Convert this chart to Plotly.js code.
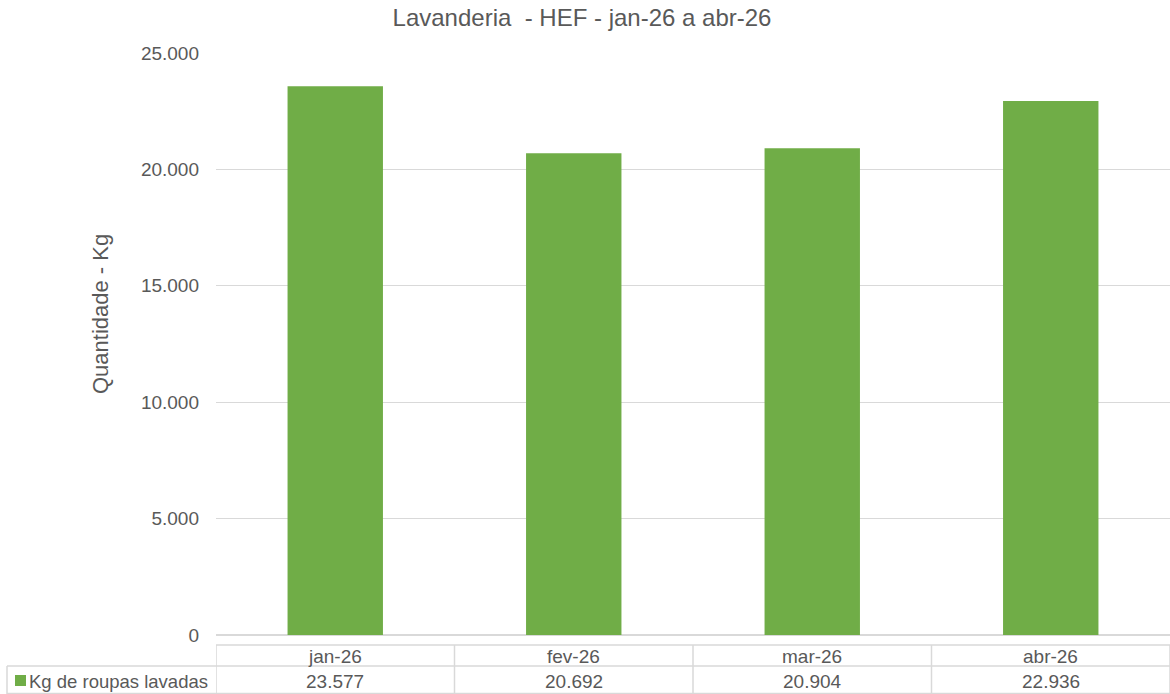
<!DOCTYPE html>
<html>
<head>
<meta charset="utf-8">
<script src="https://cdn.plot.ly/plotly-3.0.1.min.js"></script>
<style>
html,body{margin:0;padding:0;background:#fff;}
#chart{width:1170px;height:694px;}
</style>
</head>
<body>
<div id="chart"></div>
<script>
const categories = ["jan-26", "fev-26", "mar-26", "abr-26"];
const values = [23577, 20692, 20904, 22936];
const seriesName = "Kg de roupas lavadas";
const yTicks = [0, 5000, 10000, 15000, 20000, 25000];
const titleText = "Lavanderia  - HEF - jan-26 a abr-26";
const yTitle = "Quantidade - Kg";

const W = 1170, H = 694;
const mL = 216, mR = 0, mT = 53, mB = 59;
const plotW = W - mL - mR, plotH = H - mT - mB;
const green = "#70AD47";
const grid = "#D9D9D9";
const txt = "#595959";
const font = "Liberation Sans, Arial, sans-serif";

function fmt(v){ return String(Math.round(v)).replace(/\B(?=(\d{3})+(?!\d))/g, "."); }
function py(p){ return (H - mB - p) / plotH; }   // pixel y -> paper y
function px(p){ return (p - mL) / plotW; }       // pixel x -> paper x

const idx = categories.map((c,i)=>i);

const trace = {
  type: "bar",
  x: idx,
  y: values,
  marker: {color: green},
  width: 0.4,
  hoverinfo: "none",
  showlegend: false
};

const shapes = [];
const lineStyle = {color: grid, width: 1.5};
shapes.push({type:"line", xref:"paper", yref:"paper", x0:0, x1:1, y0:py(645), y1:py(645), line:lineStyle});
shapes.push({type:"line", xref:"paper", yref:"paper", x0:px(7), x1:1, y0:py(666), y1:py(666), line:lineStyle});
shapes.push({type:"line", xref:"paper", yref:"paper", x0:px(7), x1:1, y0:py(693.5), y1:py(693.5), line:lineStyle});
shapes.push({type:"line", xref:"paper", yref:"paper", x0:px(7), x1:px(7), y0:py(666), y1:py(694), line:lineStyle});
for (let k = 0; k <= categories.length; k++) {
  shapes.push({type:"line", xref:"x", yref:"paper", x0:k-0.5, x1:k-0.5, y0:py(645), y1:py(694), line:lineStyle});
}
shapes.push({type:"rect", xref:"paper", yref:"paper", x0:px(15), x1:px(26), y0:py(675), y1:py(686), fillcolor:green, line:{width:0}});

const annotations = [];
categories.forEach((c,i)=>{
  annotations.push({x:i, xref:"x", y:py(656), yref:"paper", text:c, showarrow:false,
    font:{family:font, size:19, color:txt}, xanchor:"center", yanchor:"middle"});
  annotations.push({x:i, xref:"x", y:py(681), yref:"paper", text:fmt(values[i]), showarrow:false,
    font:{family:font, size:19, color:txt}, xanchor:"center", yanchor:"middle"});
});
annotations.push({x:px(27), xref:"paper", y:py(681), yref:"paper", text:seriesName, showarrow:false,
  font:{family:font, size:18.5, color:txt}, xanchor:"left", yanchor:"middle"});
annotations.push({x:px(100), xref:"paper", y:py(314), yref:"paper", text:yTitle, showarrow:false, textangle:-90,
  font:{family:font, size:22, color:txt}, xanchor:"center", yanchor:"middle"});

const layout = {
  width: W, height: H,
  margin: {l:mL, r:mR, t:mT, b:mB, pad:0},
  paper_bgcolor: "#fff", plot_bgcolor: "#fff",
  separators: ",.",
  title: {text: titleText, font:{family:font, size:24, color:txt}, x:582/W, xref:"container", xanchor:"center", y:1 - 18/H, yref:"container", yanchor:"middle"},
  font: {family:font, color:txt},
  xaxis: {range:[-0.5, categories.length - 0.5], showticklabels:false, showgrid:false, zeroline:false, showline:false, ticks:"", fixedrange:true},
  yaxis: {range:[0, 25000], tickvals:yTicks, ticktext:yTicks.map(fmt), showgrid:true, gridcolor:grid, gridwidth:1,
    zeroline:true, zerolinecolor:grid, zerolinewidth:2, showline:false, ticks:"", ticklabelstandoff:16,
    tickfont:{family:font, size:19, color:txt}},
  shapes: shapes,
  annotations: annotations,
  bargap: 0.6
};

Plotly.newPlot("chart", [trace], layout, {displayModeBar:false, staticPlot:true});
</script>
</body>
</html>
